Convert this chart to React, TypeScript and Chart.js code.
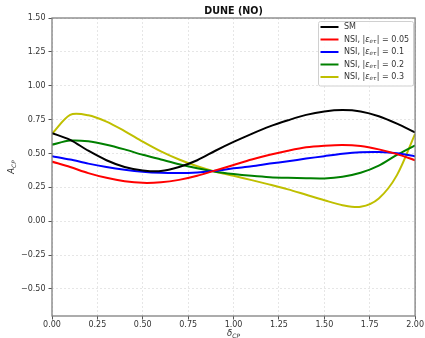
import React, { useEffect, useRef } from "react";
import { Chart, registerables } from "chart.js";

Chart.register(...registerables);

// δCP in units of π
const deltaCP = [0, 0.1, 0.2, 0.3, 0.4, 0.5, 0.6, 0.7, 0.8, 0.9, 1.0, 1.1, 1.2, 1.3, 1.4, 1.5, 1.6, 1.7, 1.8, 1.9, 2.0];

const acpSM = [0.65, 0.6, 0.52, 0.45, 0.4, 0.375, 0.37, 0.4, 0.45, 0.52, 0.585, 0.645, 0.7, 0.745, 0.785, 0.81, 0.82, 0.81, 0.775, 0.72, 0.655];
const acpNSI005 = [0.44, 0.4, 0.355, 0.32, 0.295, 0.283, 0.287, 0.305, 0.335, 0.375, 0.415, 0.455, 0.49, 0.52, 0.545, 0.557, 0.563, 0.555, 0.53, 0.495, 0.45];
const acpNSI01 = [0.48, 0.455, 0.425, 0.4, 0.38, 0.365, 0.357, 0.355, 0.36, 0.372, 0.39, 0.405, 0.425, 0.443, 0.462, 0.48, 0.497, 0.508, 0.51, 0.502, 0.48];
const acpNSI02 = [0.565, 0.595, 0.59, 0.565, 0.53, 0.49, 0.455, 0.42, 0.39, 0.365, 0.348, 0.335, 0.325, 0.32, 0.317, 0.316, 0.328, 0.357, 0.41, 0.49, 0.56];
const acpNSI03 = [0.645, 0.785, 0.782, 0.735, 0.665, 0.587, 0.515, 0.455, 0.405, 0.365, 0.335, 0.303, 0.27, 0.235, 0.195, 0.155, 0.118, 0.106, 0.168, 0.34, 0.645];

const xTicks = [0, 0.25, 0.5, 0.75, 1.0, 1.25, 1.5, 1.75, 2.0];
const yTicks = [-0.5, -0.25, 0, 0.25, 0.5, 0.75, 1.0, 1.25, 1.5];

const seriesNames = ["SM", "NSI, |ε", "NSI, |ε", "NSI, |ε", "NSI, |ε"];
const epsValues = ["", "0.05", "0.1", "0.2", "0.3"];
const seriesColors = ["#000000", "#ff0000", "#0000ff", "#008000", "#bfbf00"];
const seriesData = [acpSM, acpNSI005, acpNSI01, acpNSI02, acpNSI03];
const seriesTension = [0.3, 0.3, 0.3, 0.3, 0.3];

const FONT = "'DejaVu Sans', sans-serif";
const fmt = (v: number) => (v < 0 ? "\u2212" : "") + Math.abs(v).toFixed(2);

// Draws text with an italic subscript; returns the advanced width
function drawSubscripted(ctx: CanvasRenderingContext2D, base: string, sub: string, x: number, y: number, size: number) {
  ctx.font = `italic ${size}px ${FONT}`;
  ctx.fillText(base, x, y);
  const w1 = ctx.measureText(base).width;
  ctx.font = `italic ${size * 0.7}px ${FONT}`;
  ctx.fillText(sub, x + w1, y + size * 0.25);
  return w1 + ctx.measureText(sub).width;
}

const overlay = {
  id: "overlay",
  afterDatasetsDraw(chart: any) {
    const { ctx, chartArea: a } = chart;
    ctx.save();
    // axes frame
    ctx.strokeStyle = "#808080";
    ctx.lineWidth = 1.3;
    ctx.strokeRect(a.left, a.top, a.right - a.left, a.bottom - a.top);

    // legend
    const bx = 318.5, by = 21.5, bw = 95, bh = 64.5;
    ctx.fillStyle = "rgba(255,255,255,0.85)";
    ctx.strokeStyle = "#d0d0d0";
    ctx.lineWidth = 1;
    ctx.beginPath();
    ctx.roundRect(bx, by, bw, bh, 2);
    ctx.fill();
    ctx.stroke();
    const rowY = [27, 39.5, 52, 64.5, 77];
    ctx.textBaseline = "middle";
    ctx.textAlign = "left";
    for (let i = 0; i < seriesNames.length; i++) {
      const y = rowY[i];
      ctx.strokeStyle = seriesColors[i];
      ctx.lineWidth = 2;
      ctx.beginPath();
      ctx.moveTo(320.5, y);
      ctx.lineTo(338.5, y);
      ctx.stroke();
      ctx.fillStyle = "#333333";
      let x = 344;
      if (i === 0) {
        ctx.font = `8px ${FONT}`;
        ctx.fillText("SM", x, y);
        continue;
      }
      ctx.font = `8px ${FONT}`;
      ctx.fillText("NSI, |", x, y);
      x += ctx.measureText("NSI, |").width;
      ctx.font = `italic 8px ${FONT}`;
      ctx.fillText("ε", x, y);
      x += ctx.measureText("ε").width;
      ctx.font = `italic 5.6px ${FONT}`;
      ctx.fillText("eτ", x, y + 2);
      x += ctx.measureText("eτ").width + 0.5;
      ctx.font = `8px ${FONT}`;
      ctx.fillText("| = " + epsValues[i], x, y);
    }
    ctx.restore();
  },
  afterDraw(chart: any) {
    const { ctx, chartArea: a } = chart;
    ctx.save();
    ctx.fillStyle = "#111111";
    ctx.textAlign = "center";
    ctx.textBaseline = "middle";
    ctx.font = `bold 9.6px ${FONT}`;
    ctx.fillText("DUNE (NO)", (a.left + a.right) / 2, 11);

    ctx.fillStyle = "#333333";
    ctx.textAlign = "left";
    ctx.textBaseline = "middle";
    // x label
    ctx.font = `italic 8.5px ${FONT}`;
    const xw = ctx.measureText("δ").width;
    ctx.font = `italic 6px ${FONT}`;
    const xw2 = ctx.measureText("CP").width;
    drawSubscripted(ctx, "δ", "CP", (a.left + a.right) / 2 - (xw + xw2) / 2, 334, 8.5);
    // y label
    ctx.translate(12, (a.top + a.bottom) / 2);
    ctx.rotate(-Math.PI / 2);
    ctx.font = `italic 8.5px ${FONT}`;
    const yw = ctx.measureText("A").width;
    ctx.font = `italic 6px ${FONT}`;
    const yw2 = ctx.measureText("CP").width;
    drawSubscripted(ctx, "A", "CP", -(yw + yw2) / 2, 0, 8.5);
    ctx.restore();
  },
};

export default function App() {
  const ref = useRef<HTMLCanvasElement | null>(null);

  useEffect(() => {
    if (!ref.current) return;
    const gridCommon = {
      color: "#e0e0e0",
      lineWidth: 0.8,
      tickLength: 3.5,
      tickColor: "#555555",
      tickWidth: 1,
    };
    const chart = new Chart(ref.current, {
      type: "line",
      data: {
        datasets: seriesData.map((vals, i) => ({
          label: seriesNames[i] + epsValues[i],
          data: vals.map((v, k) => ({ x: deltaCP[k], y: v })),
          borderColor: seriesColors[i],
          backgroundColor: seriesColors[i],
          borderWidth: 2,
          pointRadius: 0,
          tension: seriesTension[i],
          fill: false,
        })),
      },
      options: {
        responsive: false,
        animation: false,
        layout: { padding: { top: 18, right: 9, left: 0, bottom: 0 } },
        plugins: { legend: { display: false }, title: { display: false }, tooltip: { enabled: false } },
        scales: {
          x: {
            type: "linear",
            min: 0,
            max: 2,
            grid: gridCommon,
            border: { display: false, dash: [2, 2] },
            afterBuildTicks: (s: any) => {
              s.ticks = xTicks.map((v) => ({ value: v }));
            },
            afterFit: (s: any) => {
              s.height = 22;
            },
            ticks: {
              padding: 1,
              maxRotation: 0,
              autoSkip: false,
              color: "#333333",
              font: { family: "'DejaVu Sans', sans-serif", size: 8 },
              callback: (v: any) => fmt(Number(v)),
            },
          },
          y: {
            type: "linear",
            min: -0.7,
            max: 1.5,
            grid: gridCommon,
            border: { display: false, dash: [2, 2] },
            afterBuildTicks: (s: any) => {
              s.ticks = yTicks.map((v) => ({ value: v }));
            },
            afterFit: (s: any) => {
              s.width = 52;
            },
            ticks: {
              padding: 3,
              autoSkip: false,
              color: "#333333",
              font: { family: "'DejaVu Sans', sans-serif", size: 8 },
              callback: (v: any) => fmt(Number(v)),
            },
          },
        },
      },
      plugins: [overlay],
    } as any);
    return () => chart.destroy();
  }, []);

  return (
    <div style={{ position: "fixed", left: 0, top: 0, width: 425, height: 338, background: "#ffffff" }}>
      <canvas ref={ref} width={425} height={338} style={{ display: "block" }} />
    </div>
  );
}
